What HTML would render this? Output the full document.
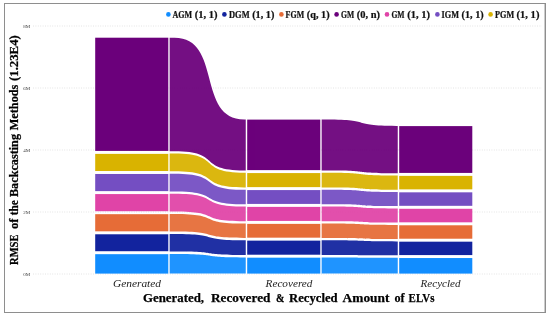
<!DOCTYPE html>
<html><head><meta charset="utf-8"><title>Ribbon chart</title>
<style>
html,body{margin:0;padding:0;background:#fff;}
body{width:550px;height:317px;overflow:hidden;position:relative;}
#frame{position:absolute;left:4px;top:3px;width:540px;height:308px;border:1px solid #8e8e8e;box-sizing:content-box;}
#fr{position:absolute;left:544.4px;top:3px;width:1px;height:310px;background:#8e8e8e;opacity:.45;}
svg{position:absolute;left:0;top:0;will-change:transform;opacity:0.999;}
text{font-family:"Liberation Serif",serif;fill:#111;}
.lg{font-size:9.3px;font-weight:bold;stroke:#111;stroke-width:0.22px;}
.tk{font-size:5px;fill:#444;}
.cat{font-size:11.2px;font-style:italic;fill:#222;}
.xt{font-size:12.6px;font-weight:bold;fill:#000;stroke:#000;stroke-width:0.25px;}
.yt{font-size:12.2px;font-weight:bold;fill:#000;stroke:#000;stroke-width:0.25px;}
</style></head><body>
<div id="frame"></div><div id="fr"></div>
<svg width="550" height="317" viewBox="0 0 550 317">
<line x1="33" x2="542" y1="26.0" y2="26.0" stroke="#e4e4e4" stroke-width="1" stroke-dasharray="1 1.4"/>
<line x1="33" x2="542" y1="88.0" y2="88.0" stroke="#e4e4e4" stroke-width="1" stroke-dasharray="1 1.4"/>
<line x1="33" x2="542" y1="150.0" y2="150.0" stroke="#e4e4e4" stroke-width="1" stroke-dasharray="1 1.4"/>
<line x1="33" x2="542" y1="212.0" y2="212.0" stroke="#e4e4e4" stroke-width="1" stroke-dasharray="1 1.4"/>
<line x1="33" x2="542" y1="274.0" y2="274.0" stroke="#e4e4e4" stroke-width="1" stroke-dasharray="1 1.4"/>
<path d="M169.65,253.9 L174.45,253.9 C222.68,253.9 196.12,257.4 244.35,257.4 L245.75,257.4 L245.75,273.6 L244.35,273.6 C196.12,273.6 222.68,273.6 174.45,273.6 L169.65,273.6 Z" fill="#118DFF" fill-opacity="0.94"/>
<path d="M169.65,234.0 L174.45,234.0 C222.68,234.0 196.12,240.35 244.35,240.35 L245.75,240.35 L245.75,255.0 L244.35,255.0 C196.12,255.0 222.68,251.5 174.45,251.5 L169.65,251.5 Z" fill="#12239E" fill-opacity="0.94"/>
<path d="M169.65,213.9 L174.45,213.9 C222.68,213.9 196.12,223.6 244.35,223.6 L245.75,223.6 L245.75,237.95 L244.35,237.95 C196.12,237.95 222.68,231.6 174.45,231.6 L169.65,231.6 Z" fill="#E66C37" fill-opacity="0.94"/>
<path d="M169.65,193.8 L174.45,193.8 C222.68,193.8 196.12,206.6 244.35,206.6 L245.75,206.6 L245.75,221.2 L244.35,221.2 C196.12,221.2 222.68,211.5 174.45,211.5 L169.65,211.5 Z" fill="#E044A7" fill-opacity="0.94"/>
<path d="M169.65,173.7 L174.45,173.7 C222.68,173.7 196.12,189.8 244.35,189.8 L245.75,189.8 L245.75,204.2 L244.35,204.2 C196.12,204.2 222.68,191.4 174.45,191.4 L169.65,191.4 Z" fill="#744EC2" fill-opacity="0.94"/>
<path d="M169.65,153.6 L174.45,153.6 C222.68,153.6 196.12,172.8 244.35,172.8 L245.75,172.8 L245.75,187.4 L244.35,187.4 C196.12,187.4 222.68,171.3 174.45,171.3 L169.65,171.3 Z" fill="#D9B300" fill-opacity="0.94"/>
<path d="M169.65,37.7 L174.45,37.7 C222.68,37.7 196.12,119.4 244.35,119.4 L245.75,119.4 L245.75,170.4 L244.35,170.4 C196.12,170.4 222.68,151.2 174.45,151.2 L169.65,151.2 Z" fill="#6B007B" fill-opacity="0.94"/>
<path d="M321.65,257.4 L326.45,257.4 C374.68,257.4 348.12,257.75 396.35,257.75 L397.75,257.75 L397.75,273.6 L396.35,273.6 C348.12,273.6 374.68,273.6 326.45,273.6 L321.65,273.6 Z" fill="#118DFF" fill-opacity="0.94"/>
<path d="M321.65,240.35 L326.45,240.35 C374.68,240.35 348.12,241.4 396.35,241.4 L397.75,241.4 L397.75,255.35 L396.35,255.35 C348.12,255.35 374.68,255.0 326.45,255.0 L321.65,255.0 Z" fill="#12239E" fill-opacity="0.94"/>
<path d="M321.65,223.6 L326.45,223.6 C374.68,223.6 348.12,225.0 396.35,225.0 L397.75,225.0 L397.75,239.0 L396.35,239.0 C348.12,239.0 374.68,237.95 326.45,237.95 L321.65,237.95 Z" fill="#E66C37" fill-opacity="0.94"/>
<path d="M321.65,206.6 L326.45,206.6 C374.68,206.6 348.12,208.5 396.35,208.5 L397.75,208.5 L397.75,222.6 L396.35,222.6 C348.12,222.6 374.68,221.2 326.45,221.2 L321.65,221.2 Z" fill="#E044A7" fill-opacity="0.94"/>
<path d="M321.65,189.8 L326.45,189.8 C374.68,189.8 348.12,192.05 396.35,192.05 L397.75,192.05 L397.75,206.1 L396.35,206.1 C348.12,206.1 374.68,204.2 326.45,204.2 L321.65,204.2 Z" fill="#744EC2" fill-opacity="0.94"/>
<path d="M321.65,172.8 L326.45,172.8 C374.68,172.8 348.12,175.6 396.35,175.6 L397.75,175.6 L397.75,189.65 L396.35,189.65 C348.12,189.65 374.68,187.4 326.45,187.4 L321.65,187.4 Z" fill="#D9B300" fill-opacity="0.94"/>
<path d="M321.65,119.6 L326.45,119.6 C374.68,119.6 348.12,125.9 396.35,125.9 L397.75,125.9 L397.75,173.2 L396.35,173.2 C348.12,173.2 374.68,170.4 326.45,170.4 L321.65,170.4 Z" fill="#6B007B" fill-opacity="0.94"/>
<rect x="95.2" y="254.18" width="73.10000000000001" height="19.42" fill="#118DFF"/>
<rect x="95.2" y="234.28" width="73.10000000000001" height="16.94" fill="#12239E"/>
<rect x="95.2" y="214.18" width="73.10000000000001" height="17.14" fill="#E66C37"/>
<rect x="95.2" y="194.08" width="73.10000000000001" height="17.14" fill="#E044A7"/>
<rect x="95.2" y="173.98" width="73.10000000000001" height="17.14" fill="#744EC2"/>
<rect x="95.2" y="153.88" width="73.10000000000001" height="17.14" fill="#D9B300"/>
<rect x="95.2" y="37.7" width="73.10000000000001" height="113.22" fill="#6B007B"/>
<rect x="247.2" y="257.68" width="73.10000000000002" height="15.92" fill="#118DFF"/>
<rect x="247.2" y="240.63" width="73.10000000000002" height="14.09" fill="#12239E"/>
<rect x="247.2" y="223.88" width="73.10000000000002" height="13.79" fill="#E66C37"/>
<rect x="247.2" y="206.88" width="73.10000000000002" height="14.04" fill="#E044A7"/>
<rect x="247.2" y="190.08" width="73.10000000000002" height="13.84" fill="#744EC2"/>
<rect x="247.2" y="173.08" width="73.10000000000002" height="14.04" fill="#D9B300"/>
<rect x="247.2" y="119.6" width="73.10000000000002" height="50.52" fill="#6B007B"/>
<rect x="399.2" y="258.03" width="73.10000000000002" height="15.57" fill="#118DFF"/>
<rect x="399.2" y="241.68" width="73.10000000000002" height="13.39" fill="#12239E"/>
<rect x="399.2" y="225.28" width="73.10000000000002" height="13.44" fill="#E66C37"/>
<rect x="399.2" y="208.78" width="73.10000000000002" height="13.54" fill="#E044A7"/>
<rect x="399.2" y="192.33" width="73.10000000000002" height="13.49" fill="#744EC2"/>
<rect x="399.2" y="175.88" width="73.10000000000002" height="13.49" fill="#D9B300"/>
<rect x="399.2" y="126.1" width="73.10000000000002" height="46.82" fill="#6B007B"/>
<circle cx="168.4" cy="14.4" r="2.3" fill="#118DFF"/>
<text class="lg" y="17.55"><tspan x="172.4" textLength="19.8" lengthAdjust="spacingAndGlyphs">AGM</tspan> <tspan x="194.8" textLength="22.8" lengthAdjust="spacingAndGlyphs">(1, 1)</tspan></text>
<circle cx="224.4" cy="14.4" r="2.3" fill="#12239E"/>
<text class="lg" y="17.55"><tspan x="229.0" textLength="20.6" lengthAdjust="spacingAndGlyphs">DGM</tspan> <tspan x="252.2" textLength="22.2" lengthAdjust="spacingAndGlyphs">(1, 1)</tspan></text>
<circle cx="281.4" cy="14.4" r="2.3" fill="#E66C37"/>
<text class="lg" y="17.55"><tspan x="285.6" textLength="18.6" lengthAdjust="spacingAndGlyphs">FGM</tspan> <tspan x="306.8" textLength="22.8" lengthAdjust="spacingAndGlyphs">(q, 1)</tspan></text>
<circle cx="336.6" cy="14.4" r="2.3" fill="#6B007B"/>
<text class="lg" y="17.55"><tspan x="341.0" textLength="13.2" lengthAdjust="spacingAndGlyphs">GM</tspan> <tspan x="356.8" textLength="23.2" lengthAdjust="spacingAndGlyphs">(0, n)</tspan></text>
<circle cx="387.0" cy="14.4" r="2.3" fill="#E044A7"/>
<text class="lg" y="17.55"><tspan x="391.4" textLength="13.2" lengthAdjust="spacingAndGlyphs">GM</tspan> <tspan x="407.2" textLength="22.8" lengthAdjust="spacingAndGlyphs">(1, 1)</tspan></text>
<circle cx="437.4" cy="14.4" r="2.3" fill="#744EC2"/>
<text class="lg" y="17.55"><tspan x="441.6" textLength="17.4" lengthAdjust="spacingAndGlyphs">IGM</tspan> <tspan x="461.6" textLength="22.0" lengthAdjust="spacingAndGlyphs">(1, 1)</tspan></text>
<circle cx="490.6" cy="14.4" r="2.3" fill="#D9B300"/>
<text class="lg" y="17.55"><tspan x="495.0" textLength="19.2" lengthAdjust="spacingAndGlyphs">PGM</tspan> <tspan x="516.6" textLength="22.8" lengthAdjust="spacingAndGlyphs">(1, 1)</tspan></text>
<text class="tk" x="30.2" y="27.9" text-anchor="end">8M</text>
<text class="tk" x="30.2" y="89.9" text-anchor="end">6M</text>
<text class="tk" x="30.2" y="151.89999999999998" text-anchor="end">4M</text>
<text class="tk" x="30.2" y="213.89999999999998" text-anchor="end">2M</text>
<text class="tk" x="30.2" y="275.9" text-anchor="end">0M</text>
<text class="cat" x="113" y="286.7" textLength="48" lengthAdjust="spacingAndGlyphs">Generated</text>
<text class="cat" x="265.6" y="286.7" textLength="46.8" lengthAdjust="spacingAndGlyphs">Recovered</text>
<text class="cat" x="420.6" y="286.7" textLength="40.0" lengthAdjust="spacingAndGlyphs">Recycled</text>
<text class="xt" y="302.2"><tspan x="143" textLength="61" lengthAdjust="spacingAndGlyphs">Generated,</tspan> <tspan x="211" textLength="59.4" lengthAdjust="spacingAndGlyphs">Recovered</tspan> <tspan x="276" textLength="8.4" lengthAdjust="spacingAndGlyphs">&amp;</tspan> <tspan x="289" textLength="48.6" lengthAdjust="spacingAndGlyphs">Recycled</tspan> <tspan x="342.6" textLength="46.8" lengthAdjust="spacingAndGlyphs">Amount</tspan> <tspan x="394.4" textLength="10.1" lengthAdjust="spacingAndGlyphs">of</tspan> <tspan x="408.6" textLength="25.8" lengthAdjust="spacingAndGlyphs">ELVs</tspan></text>
<text class="yt" transform="translate(18,264.9) rotate(-90)"><tspan x="-0.0" textLength="30.3" lengthAdjust="spacingAndGlyphs">RMSE</tspan> <tspan x="35.9" textLength="10.5" lengthAdjust="spacingAndGlyphs">of</tspan> <tspan x="49.6" textLength="15.1" lengthAdjust="spacingAndGlyphs">the</tspan> <tspan x="67.9" textLength="63" lengthAdjust="spacingAndGlyphs">Backcasting</tspan> <tspan x="134.7" textLength="45.6" lengthAdjust="spacingAndGlyphs">Methods</tspan> <tspan x="183.9" textLength="45.8" lengthAdjust="spacingAndGlyphs">(1.23E4)</tspan></text>
</svg>
</body></html>
